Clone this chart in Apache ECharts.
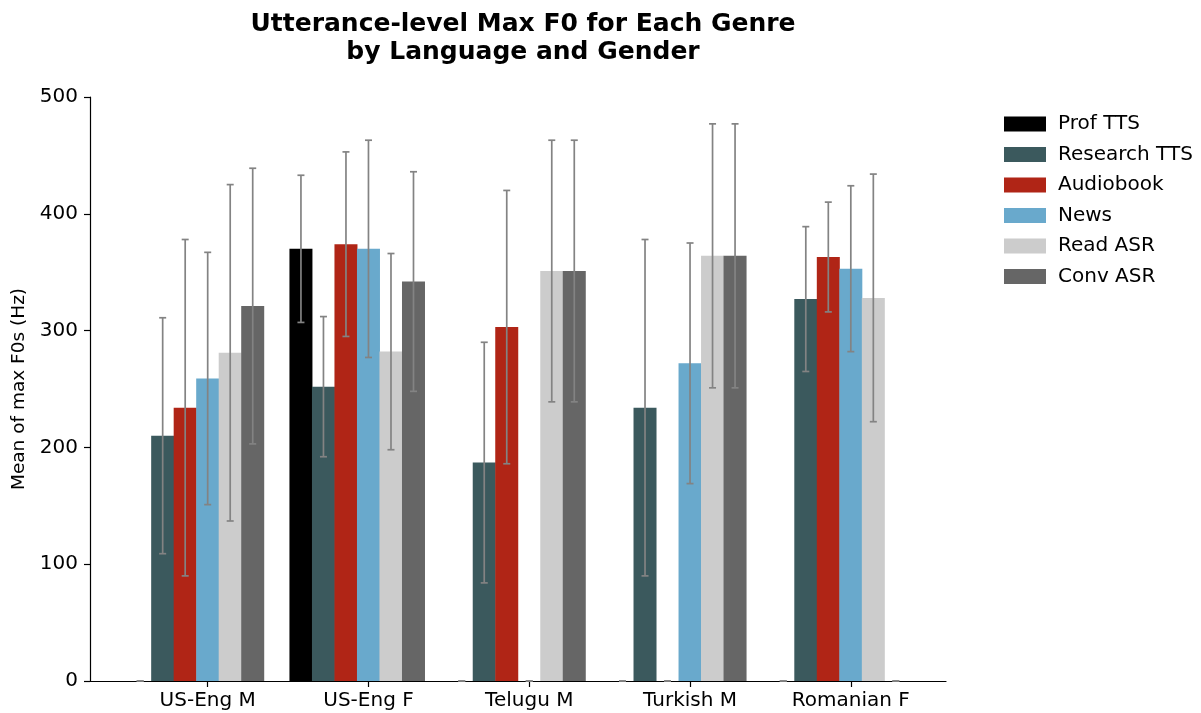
<!DOCTYPE html>
<html>
<head>
<meta charset="utf-8">
<script src="https://cdn.jsdelivr.net/npm/echarts@6/dist/echarts.min.js"></script>
<style>html,body{margin:0;padding:0;background:#fff}#chart{width:1201px;height:713px}</style>
</head>
<body>
<div id="chart"></div>
<script>
// ---- data ----
const categories = ['US-Eng M', 'US-Eng F', 'Telugu M', 'Turkish M', 'Romanian F'];
const genres = ['Prof TTS', 'Research TTS', 'Audiobook', 'News', 'Read ASR', 'Conv ASR'];
const yTicks = [0, 100, 200, 300, 400, 500];

const profTTS        = [0,   370, 0,   0,   0];
const profTTSErr     = [0,   63,  0,   0,   0];
const researchTTS    = [210, 252, 187, 234, 327];
const researchTTSErr = [101, 60,  103, 144, 62];
const audiobook      = [234, 374, 303, 0,   363];
const audiobookErr   = [144, 79,  117, 0,   47];
const news           = [259, 370, 0,   272, 353];
const newsErr        = [108, 93,  0,   103, 71];
const readASR        = [281, 282, 351, 364, 328];
const readASRErr     = [144, 84,  112, 113, 106];
const convASR        = [321, 342, 351, 364, 0];
const convASRErr     = [118, 94,  112, 113, 0];

// ---- styling / layout ----
const means = [profTTS, researchTTS, audiobook, news, readASR, convASR];
const errs = [profTTSErr, researchTTSErr, audiobookErr, newsErr, readASRErr, convASRErr];
const colors = ['#000000', '#3b595d', '#b02516', '#69a9cc', '#cccccc', '#666666'];
const FONT = 'DejaVu Sans';
const barUnit = 0.14;           // bar width in category units
const pos = (k, i) => k + (i - 3) * barUnit;

const barSeries = genres.map((g, i) => ({
  name: g,
  type: 'bar',
  barWidth: 23,
  barGap: '-100%',
  itemStyle: { color: colors[i] },
  data: means[i].map((v, k) => [pos(k, i), v]),
  z: 2
}));

const errData = [];
genres.forEach((g, i) => means[i].forEach((v, k) => errData.push([pos(k, i), v, errs[i][k]])));

const errSeries = {
  type: 'custom',
  name: 'errorbars',
  data: errData,
  encode: { x: 0, y: 1 },
  z: 5,
  silent: true,
  renderItem(params, api) {
    const x = api.value(0), m = api.value(1), e = api.value(2);
    const top = api.coord([x, m + e]);
    const bot = api.coord([x, m - e]);
    const cap = 3.5;
    const style = { stroke: '#838383', lineWidth: 1.7 };
    return {
      type: 'group',
      children: [
        { type: 'line', shape: { x1: top[0], y1: top[1], x2: bot[0], y2: bot[1] }, style },
        { type: 'line', shape: { x1: top[0] - cap, y1: top[1], x2: top[0] + cap, y2: top[1] }, style },
        { type: 'line', shape: { x1: bot[0] - cap, y1: bot[1], x2: bot[0] + cap, y2: bot[1] }, style }
      ]
    };
  }
};

const chart = echarts.init(document.getElementById('chart'), null, { renderer: 'canvas' });
chart.setOption({
  animation: false,
  backgroundColor: '#ffffff',
  textStyle: { fontFamily: FONT },
  title: {
    text: 'Utterance-level Max F0 for Each Genre\nby Language and Gender',
    left: 518,
    top: 6,
    textAlign: 'center',
    textStyle: { fontFamily: FONT, fontSize: 25, fontWeight: 'bold', color: '#000', lineHeight: 27.5 }
  },
  legend: {
    data: genres,
    orient: 'vertical',
    left: 999,
    top: 109,
    itemWidth: 42,
    itemHeight: 15,
    itemGap: 10.5,
    icon: 'rect',
    textStyle: { fontFamily: FONT, fontSize: 20, color: '#000', padding: [0, 0, 0, 7] }
  },
  grid: { left: 90, right: 255, top: 97, bottom: 32, containLabel: false },
  xAxis: {
    type: 'value',
    min: -0.732,
    max: 4.592,
    splitLine: { show: false },
    axisLine: { show: true, onZero: false, lineStyle: { color: '#000', width: 1.2 } },
    axisTick: { show: true, length: 6, customValues: categories.map((c, k) => k), lineStyle: { color: '#000', width: 1.2 } },
    axisLabel: {
      customValues: categories.map((c, k) => k),
      formatter: v => categories[Math.round(v)] || '',
      fontFamily: FONT, fontSize: 20, color: '#000', margin: 10
    }
  },
  yAxis: {
    type: 'value',
    min: yTicks[0],
    max: yTicks[yTicks.length - 1],
    interval: 100,
    name: 'Mean of max F0s (Hz)',
    nameLocation: 'middle',
    nameGap: 55,
    nameTextStyle: { fontFamily: FONT, fontSize: 18.5, color: '#000' },
    splitLine: { show: false },
    axisLine: { show: true, onZero: false, lineStyle: { color: '#000', width: 1.2 } },
    axisTick: { show: true, length: 6, lineStyle: { color: '#000', width: 1.2 } },
    axisLabel: { fontFamily: FONT, fontSize: 20, color: '#000', margin: 12 }
  },
  series: [...barSeries, errSeries]
});
</script>
</body>
</html>
